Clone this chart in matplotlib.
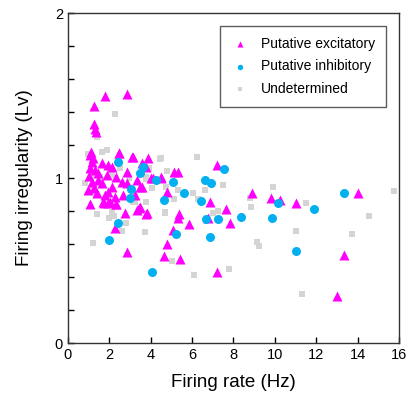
import matplotlib
matplotlib.use('Agg')
import matplotlib.pyplot as plt
from matplotlib.ticker import MultipleLocator

plt.rcParams['font.family'] = ['Liberation Sans', 'DejaVu Sans']

# Putative excitatory (firing rate Hz, Lv)
exc_rate = [1.80, 2.84, 1.27, 1.27, 1.32, 1.35, 1.10, 2.48, 3.08, 3.88, 3.56,
            7.19, 5.12, 5.32, 4.12, 4.49, 4.80, 6.86, 8.91, 9.80, 7.64, 5.38,
            5.33, 5.85, 7.86, 5.06, 4.77, 4.67, 5.40, 7.19, 14.0, 10.25, 11.03,
            13.37, 13.0, 3.13, 3.80, 4.04, 4.48, 3.32, 3.56, 3.24, 3.45, 3.32,
            3.80, 6.78, 1.06, 2.46, 1.15, 1.63, 1.95, 2.14, 1.06, 2.84, 1.47,
            1.87, 2.35, 1.15, 1.63, 2.60, 2.84, 3.48, 2.14, 0.98, 1.95, 1.39,
            1.79, 2.27, 2.67, 1.06, 1.71, 2.03, 2.35, 1.75, 1.95, 2.35, 2.75,
            3.48, 2.30, 2.88, 3.83, 1.20, 1.30, 1.00, 1.45, 1.25]
exc_lv = [1.50, 1.51, 1.44, 1.33, 1.30, 1.28, 1.16, 1.15, 1.125, 1.12, 1.09,
          1.079, 1.034, 1.034, 0.998, 0.998, 0.915, 0.857, 0.911, 0.88, 0.81, 0.78,
          0.756, 0.72, 0.73, 0.685, 0.60, 0.529, 0.511, 0.432, 0.907, 0.867, 0.847,
          0.533, 0.285, 1.129, 1.07, 0.998, 1.004, 0.988, 0.947, 0.897, 0.816, 0.806,
          0.782, 0.76, 1.139, 1.15, 1.099, 1.089, 1.079, 1.069, 1.059, 1.038, 1.028,
          1.018, 1.008, 0.978, 0.968, 0.978, 0.968, 0.947, 0.947, 0.927, 0.917, 0.907,
          0.897, 0.887, 0.897, 0.842, 0.857, 0.857, 0.842, 0.847, 0.85, 0.842, 0.786,
          0.822, 0.70, 0.553, 0.786, 1.12, 1.05, 1.01, 0.99, 0.94]

# Putative inhibitory
inh_rate = [2.40, 3.64, 3.48, 4.25, 3.07, 3.00, 4.64, 2.40, 2.00, 4.09, 7.55,
            5.09, 6.62, 6.90, 5.60, 6.43, 10.17, 6.67, 7.24, 8.35, 9.86, 5.25,
            6.86, 13.35, 11.92, 11.03]
inh_lv = [1.10, 1.07, 1.03, 0.99, 0.935, 0.877, 0.87, 0.727, 0.624, 0.432, 1.056,
          0.978, 0.99, 0.97, 0.907, 0.862, 0.85, 0.75, 0.75, 0.766, 0.76, 0.659,
          0.642, 0.907, 0.81, 0.557]

# Undetermined
und_rate = [2.27, 1.42, 4.45, 4.80, 0.98, 1.63, 3.80, 4.09, 3.77, 1.58, 1.42,
            2.00, 2.11, 2.24, 2.79, 2.62, 3.74, 1.22, 4.70, 3.24, 4.48, 6.25,
            7.51, 9.92, 4.74, 5.33, 6.06, 6.62, 5.12, 6.30, 8.80, 8.83, 7.02,
            7.26, 4.69, 9.15, 9.25, 5.04, 6.10, 7.80, 11.53, 15.77, 14.56, 11.05,
            13.74, 11.32, 3.80, 3.16, 1.22, 2.11, 0.82, 1.55, 3.16, 1.20, 1.90,
            2.50, 1.35, 2.95, 3.90]
und_lv = [1.39, 1.25, 1.115, 1.042, 1.149, 1.159, 0.997, 0.937, 0.856, 0.988, 0.78,
          0.756, 0.796, 0.77, 0.725, 0.68, 0.675, 0.604, 0.79, 0.857, 1.119, 1.125,
          0.958, 0.947, 0.947, 0.93, 0.907, 0.93, 0.873, 0.873, 0.877, 0.822, 0.79,
          0.80, 0.792, 0.61, 0.59, 0.497, 0.41, 0.447, 0.847, 0.921, 0.77, 0.679,
          0.659, 0.295, 1.004, 0.857, 1.018, 1.018, 0.968, 1.004, 0.897, 0.93, 1.17,
          1.06, 0.90, 1.00, 1.06]

fig = plt.figure(figsize=(4.19, 3.98), dpi=100)
ax = fig.add_axes([0.162, 0.138, 0.79, 0.829])

und = ax.scatter(und_rate, und_lv, marker='s', s=13, color='#d4d4d4', linewidths=0,
                 label='Undetermined', zorder=2)
exc = ax.scatter(exc_rate, exc_lv, marker='^', s=52, color='#ff00ff', linewidths=0,
                 label='Putative excitatory', zorder=3)
inh = ax.scatter(inh_rate, inh_lv, marker='o', s=42, color='#00b0f0', linewidths=0,
                 label='Putative inhibitory', zorder=4)

ax.set_xlim(0, 16)
ax.set_ylim(0, 2)
ax.xaxis.set_major_locator(MultipleLocator(2))
ax.yaxis.set_major_locator(MultipleLocator(1))
ax.yaxis.set_minor_locator(MultipleLocator(0.2))
ax.tick_params(direction='in', length=4, width=1, labelsize=10.5, top=False, right=False)
ax.tick_params(which='minor', direction='in', length=4, width=1)
for sp in ax.spines.values():
    sp.set_linewidth(1)
    sp.set_color('#333333')

ax.set_xlabel('Firing rate (Hz)', fontsize=13.5, labelpad=9)
ax.set_ylabel('Firing irregularity (Lv)', fontsize=13.5, labelpad=16)

leg = ax.legend(handles=[exc, inh, und], loc='upper right', fontsize=10,
                frameon=True, fancybox=False, edgecolor='#333333',
                markerscale=0.6, handlelength=1.2, handletextpad=0.9,
                borderpad=0.8, labelspacing=0.6, borderaxespad=0,
                bbox_to_anchor=(0.961, 0.961))
leg.get_frame().set_linewidth(1)

fig.savefig('out.png', dpi=100)
